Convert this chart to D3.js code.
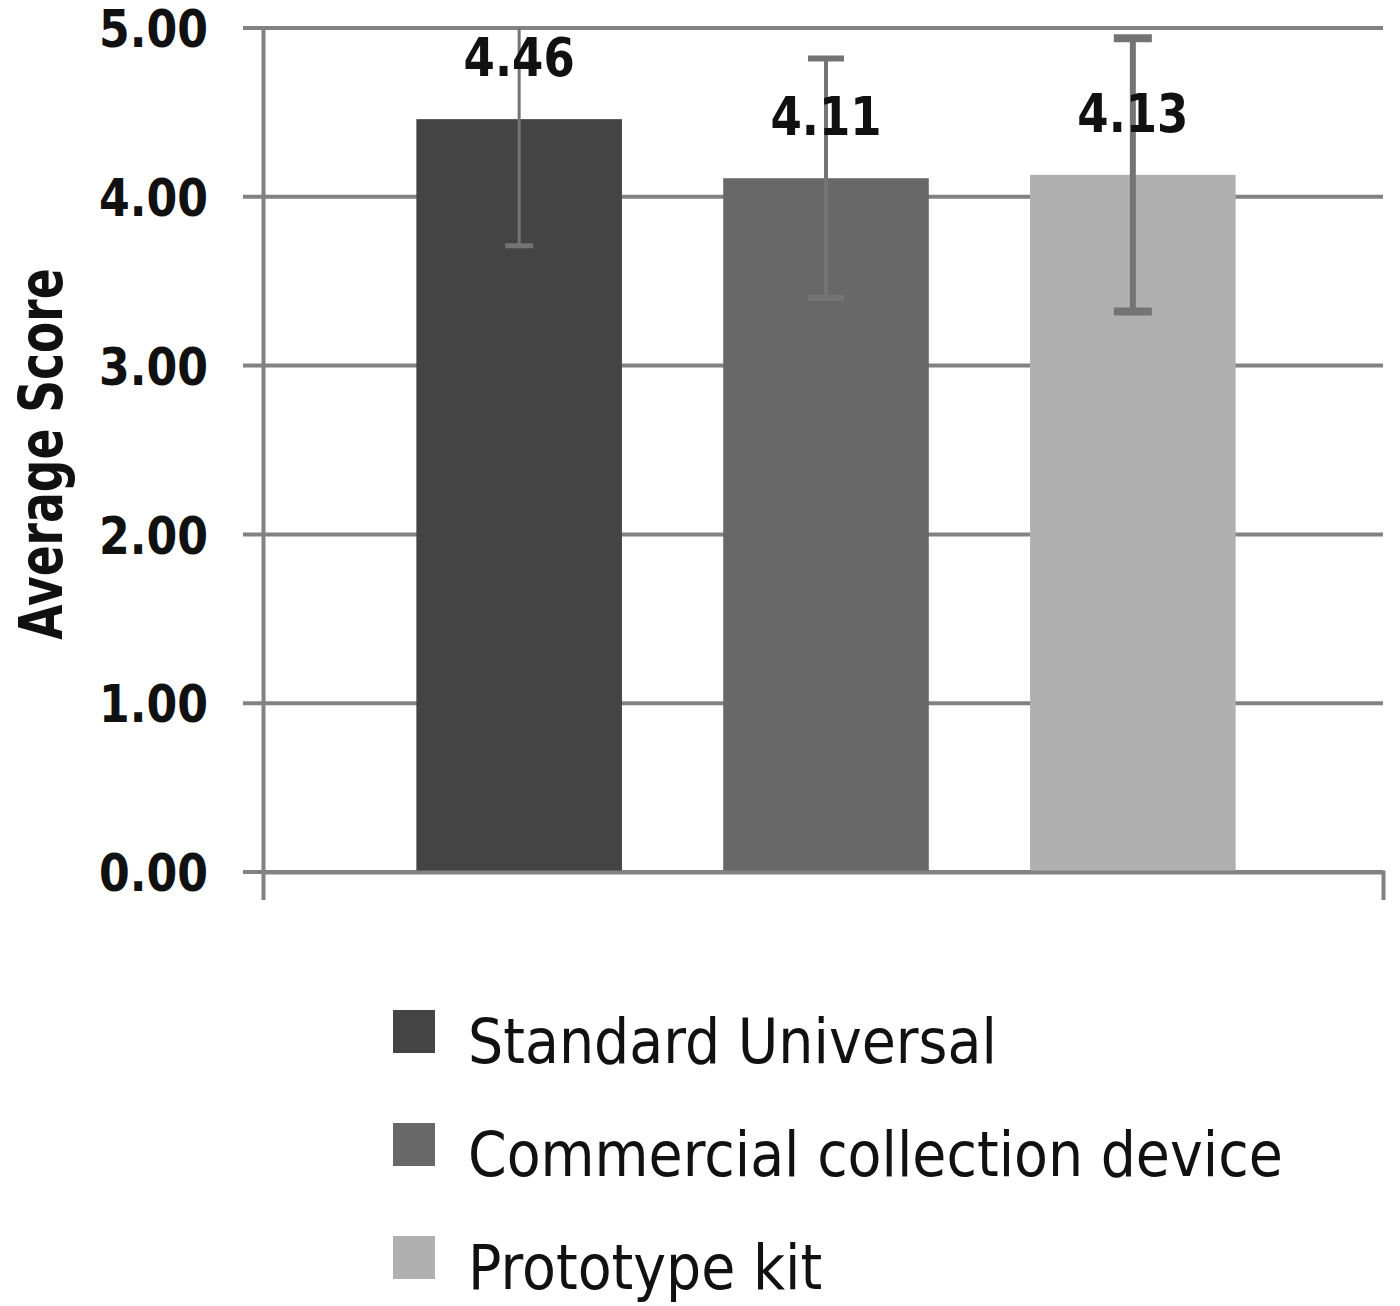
<!DOCTYPE html>
<html>
<head>
<meta charset="utf-8">
<script src="https://cdn.jsdelivr.net/npm/d3@7"></script>
<style>
  body { margin: 0; background: #fff; }
  text { font-family: 'DejaVu Sans', sans-serif; }
</style>
</head>
<body>
<script>
const categories = ['Standard Universal', 'Commercial collection device', 'Prototype kit'];
const scores = [4.46, 4.11, 4.13];
const errors = [0.75, 0.71, 0.81];
const colors = ['#444444', '#686868', '#b0b0b0'];
const yTicks = [0, 1, 2, 3, 4, 5];

const width = 1400;
const height = 1306;
const plot = { left: 263, right: 1383, top: 28, bottom: 872 };

const datos = categories.map((c, i) => ({ cat: c, v: scores[i], e: errors[i], color: colors[i] }));

const svg = d3.select('body')
  .append('svg')
  .attr('width', width)
  .attr('height', height);

const x = d3.scaleBand()
  .domain(categories)
  .range([plot.left + 3, plot.right + 3])
  .paddingInner(0.33)
  .paddingOuter(0.49);

const y = d3.scaleLinear()
  .domain([0, 5])
  .range([plot.bottom, plot.top]);

// gridlines
svg.append('g')
  .selectAll('line')
  .data(yTicks)
  .join('line')
  .attr('x1', plot.left - 20)
  .attr('x2', plot.right)
  .attr('y1', (d) => y(d))
  .attr('y2', (d) => y(d))
  .attr('stroke', '#828282')
  .attr('stroke-width', 4);

// bars
svg.append('g')
  .selectAll('rect')
  .data(datos)
  .join('rect')
  .attr('x', (d) => x(d.cat))
  .attr('y', (d) => y(d.v))
  .attr('width', x.bandwidth())
  .attr('height', (d) => y(0) - y(d.v))
  .attr('fill', (d) => d.color);

// y axis
const ejeY = svg.append('g')
  .attr('transform', `translate(${plot.left}, 0)`)
  .call(d3.axisLeft(y)
    .tickValues(yTicks)
    .tickFormat(d3.format('.2f'))
    .tickSize(0)
    .tickSizeOuter(0));

ejeY.select('.domain')
  .attr('stroke', '#828282')
  .attr('stroke-width', 4);

ejeY.selectAll('text')
  .attr('x', 0)
  .attr('dy', '0.36em')
  .attr('transform', 'translate(-55, 0) scale(0.85, 1)')
  .attr('font-size', 52)
  .attr('font-weight', 'bold')
  .attr('fill', '#111');

// x axis (no labels, only end ticks)
const ejeX = svg.append('g')
  .attr('transform', `translate(0, ${plot.bottom})`)
  .call(d3.axisBottom(x.copy().range([plot.left, plot.right]))
    .tickValues([])
    .tickSizeOuter(28));

ejeX.select('.domain')
  .attr('stroke', '#828282')
  .attr('stroke-width', 4)
  .attr('fill', 'none');

// error bars
const capW = [28, 36, 38];
const errW = [3, 4, 6];
const errG = svg.append('g');

datos.forEach((d, i) => {
  const cx = x(d.cat) + x.bandwidth() / 2;
  const hi = Math.min(5, d.v + d.e);
  const lo = d.v - d.e;
  errG.append('line')
    .attr('x1', cx).attr('x2', cx)
    .attr('y1', y(hi)).attr('y2', y(lo))
    .attr('stroke', '#747474')
    .attr('stroke-width', errW[i]);
  const caps = [lo];
  if (d.v + d.e <= 5) caps.push(hi);
  caps.forEach((c) => {
    errG.append('line')
      .attr('x1', cx - capW[i] / 2).attr('x2', cx + capW[i] / 2)
      .attr('y1', y(c)).attr('y2', y(c))
      .attr('stroke', '#747474')
      .attr('stroke-width', errW[i] + 2);
  });
});

// value labels
svg.append('g')
  .selectAll('text')
  .data(datos)
  .join('text')
  .attr('transform', (d) => `translate(${x(d.cat) + x.bandwidth() / 2}, ${y(d.v) - 43}) scale(0.85, 1)`)
  .attr('text-anchor', 'middle')
  .attr('font-size', 53)
  .attr('font-weight', 'bold')
  .attr('fill', '#111')
  .text((d) => d.v.toFixed(2));

// y title
svg.append('text')
  .attr('transform', 'translate(62, 454) rotate(-90) scale(0.76, 1)')
  .attr('text-anchor', 'middle')
  .attr('font-size', 60)
  .attr('font-weight', 'bold')
  .attr('fill', '#111')
  .text('Average Score');

// legend
const legend = svg.append('g')
  .selectAll('g')
  .data(datos)
  .join('g')
  .attr('transform', (d, i) => `translate(393, ${1010 + i * 113})`);

legend.append('rect')
  .attr('width', 42)
  .attr('height', 43)
  .attr('fill', (d) => d.color);

legend.append('text')
  .attr('transform', 'translate(75, 53) scale(0.88, 1)')
  .attr('font-size', 63)
  .attr('fill', '#111')
  .text((d) => d.cat);
</script>
</body>
</html>
